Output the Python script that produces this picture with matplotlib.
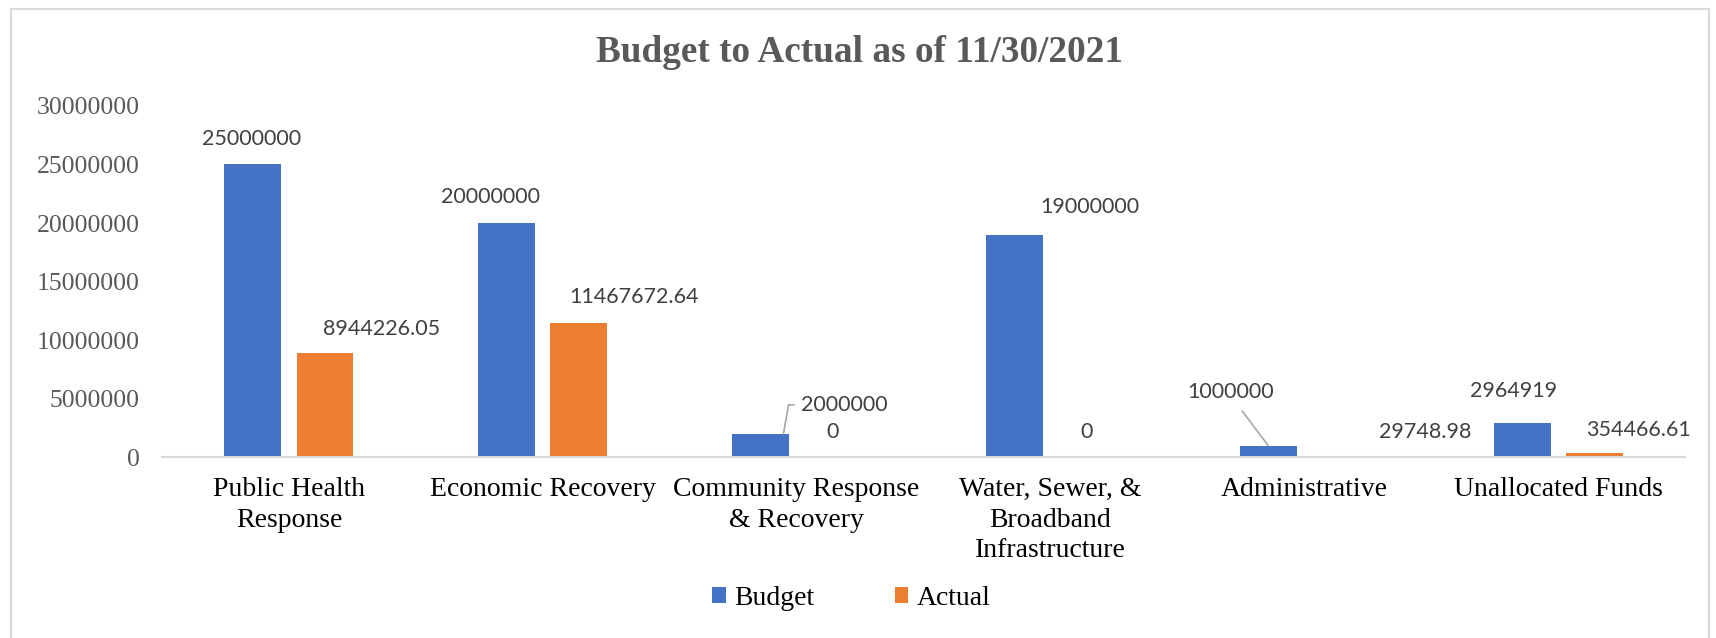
import numpy as np
import matplotlib
matplotlib.use("Agg")
import matplotlib.pyplot as plt
from matplotlib.lines import Line2D

categories = ["Public Health\nResponse", "Economic Recovery", "Community Response\n& Recovery",
              "Water, Sewer, &\nBroadband\nInfrastructure", "Administrative", "Unallocated Funds"]
budget = [25000000, 20000000, 2000000, 19000000, 1000000, 2964919]
actual = [8944226.05, 11467672.64, 0, 0, 29748.98, 354466.61]
budget_text = ["25000000", "20000000", "2000000", "19000000", "1000000", "2964919"]
actual_text = ["8944226.05", "11467672.64", "0", "0", "29748.98", "354466.61"]

# label offsets (points) from bar top, as Excel had them dragged around
budget_off = [(-1, 18), (-12, 19), (44, 21), (54, 20), (-27, 39), (-6, 23)]
actual_off = [(41, 17), (40, 19), (0, 18), (0, 18), (61, 18), (32, 17)]

BLUE = "#4472C4"
ORANGE = "#ED7D31"
GRAY = "#595959"
LBL = "#404040"
SERIF = "Liberation Serif"
SANS = "Lato"

fig = plt.figure(figsize=(17.16, 6.38), dpi=100)
ax = fig.add_axes([0.0944, 0.283, 0.8876, 0.551])

x = np.arange(len(categories))
w = 0.224
off = 0.142
ax.bar(x - off, budget, w, color=BLUE, label="Budget")
ax.bar(x + off, actual, w, color=ORANGE, label="Actual")

ax.set_xlim(-0.5, len(categories) - 0.5)
ax.set_ylim(0, 30000000)
ax.set_yticks(np.arange(0, 30000001, 5000000))
ax.set_yticklabels([str(v) for v in range(0, 30000001, 5000000)],
                   fontfamily=SERIF, fontsize=18.5, color=GRAY)
ax.set_xticks(x)
ax.set_xticklabels(categories, fontfamily=SERIF, fontsize=20, color="black", linespacing=1.3)
ax.tick_params(axis="y", length=0, pad=16)
ax.tick_params(axis="x", length=0, pad=14)
for s in ["top", "right", "left"]:
    ax.spines[s].set_visible(False)
ax.spines["bottom"].set_color("#D9D9D9")
ax.spines["bottom"].set_linewidth(1.5)

lkw = dict(textcoords="offset points", ha="center", va="center",
           fontfamily=SANS, fontsize=15.5, color=LBL)
for i in range(len(categories)):
    dx, dy = budget_off[i]
    xb, yb = x[i] - off, budget[i]
    if i == 2:
        # leader line: bar top -> up -> across to label
        ax.annotate(budget_text[i], (xb + 0.09, yb), xytext=(dx, dy),
                    arrowprops=dict(arrowstyle="-", color="#A6A6A6", lw=1.2, relpos=(0, 0.5),
                                    connectionstyle="angle,angleA=180,angleB=80,rad=0",
                                    shrinkA=3, shrinkB=0), **lkw)
    elif i == 4:
        ax.annotate(budget_text[i], (xb, yb), xytext=(dx, dy),
                    arrowprops=dict(arrowstyle="-", color="#A6A6A6", lw=1.2, relpos=(0.55, 0),
                                    shrinkA=6, shrinkB=0), **lkw)
    else:
        ax.annotate(budget_text[i], (xb, yb), xytext=(dx, dy), **lkw)
    dx, dy = actual_off[i]
    ax.annotate(actual_text[i], (x[i] + off, actual[i]), xytext=(dx, dy), **lkw)

fig.text(0.501, 0.917, "Budget to Actual as of 11/30/2021", ha="center", va="center",
         fontfamily=SERIF, fontsize=26.8, fontweight="bold", color=GRAY)

leg = fig.legend(loc="center", bbox_to_anchor=(0.496, 0.062), ncol=2, frameon=False,
                 prop={"family": SERIF, "size": 20}, handlelength=0.5, handleheight=0.5,
                 columnspacing=2.9, handletextpad=0.3)

# chart area border
for xs, ys in [([0.0064, 0.0064], [0.0, 0.986]), ([0.0064, 0.996], [0.986, 0.986]),
               ([0.996, 0.996], [0.0, 0.986])]:
    fig.add_artist(Line2D(xs, ys, transform=fig.transFigure, color="#D9D9D9", lw=1.5))

fig.savefig("out.png", dpi=100)
